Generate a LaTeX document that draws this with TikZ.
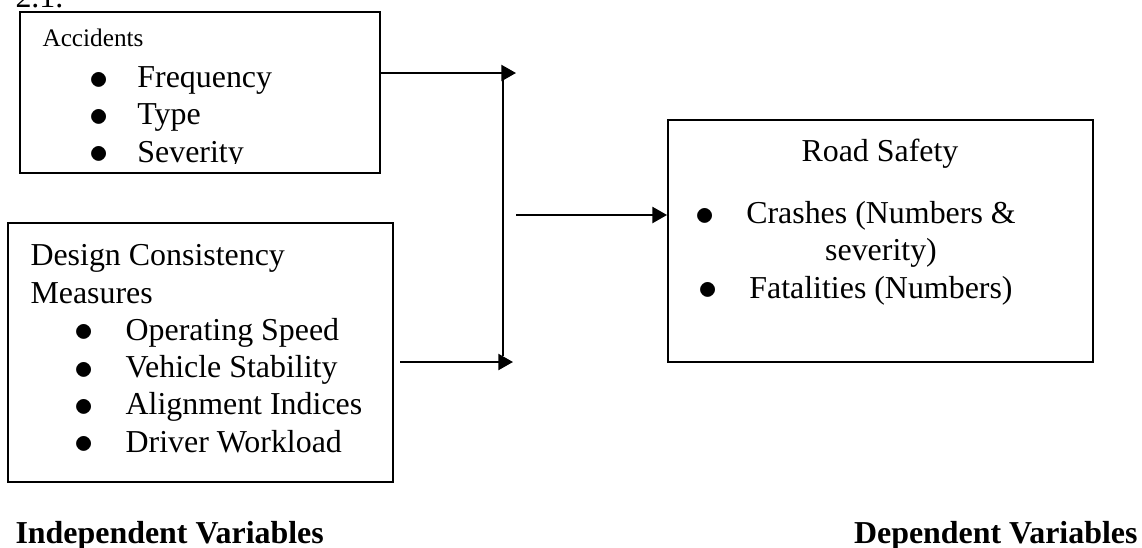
\documentclass[tikz,border=0pt]{standalone}
\usepackage{fontspec}
\setmainfont{Liberation Serif}
\usetikzlibrary{arrows.meta, fit, positioning}

\newcommand{\dotmark}{\raisebox{-0.6pt}{\scalebox{1.2}{$\bullet$}}}
\newcommand{\bul}[1][18pt]{\makebox[#1][l]{\dotmark}}
\newcommand{\hbul}{\llap{\dotmark\hspace{11.8pt}}}

\begin{document}
\begin{tikzpicture}[
  x=0.376pt, y=-0.376pt,
  frame/.style={rectangle, draw, line width=0.7pt, inner sep=0pt},
  txt/.style={inner sep=0pt, align=left, font=\fontsize{12}{14}\selectfont},
  lbl/.style={inner sep=0pt, font=\fontsize{12}{14}\selectfont\bfseries},
  arr/.style={-{Triangle[length=5.5pt, width=6pt]}, line width=0.85pt}
]
\path[use as bounding box] (0,0) rectangle (1142,547);
\clip (0,0) rectangle (1142,547);

\node[txt, anchor=base west] (num) at (15,7) {2.1.};

% boxes
\node[frame, fit={(20,12) (380,173)}] (acc) {};
\node[frame, fit={(8,223) (393,482)}] (dcm) {};
\node[frame, fit={(668,120) (1093,362)}] (safety) {};

% box texts (anchored on the last line)
\begin{scope}
\clip (20,12) rectangle (380,163);
\node[txt, font=\fontsize{9.5}{11}\selectfont, anchor=base west] (acc-title) at (42,46) {Accidents};
\node[txt, anchor=base west] (acc-list) at (89,162)
  {\bul Frequency\\ \bul Type\\ \bul Severity};
\end{scope}
\node[txt, anchor=base west] (dcm-title) at (30,303) {Design Consistency\\Measures};
\node[txt, anchor=base west] (dcm-list) at (74,452)
  {\bul[19.2pt]Operating Speed\\ \bul[19.2pt]Vehicle Stability\\
   \bul[19.2pt]Alignment Indices\\ \bul[19.2pt]Driver Workload};
\node[txt, align=center, anchor=base] (safety-title) at (880,161) {Road Safety};
\node[txt, align=center, anchor=base] (safety-list) at (881,298)
  {\hbul Crashes (Numbers \&\\ severity)\\ \hbul Fatalities (Numbers)};

% labels
\node[lbl, anchor=base west] (indep) at (15,543) {Independent Variables};
\node[lbl, anchor=base east] (dep) at (1138,543) {Dependent Variables};

% connectors
\coordinate (jt) at (516,73);
\coordinate (jb) at (513,362);
\coordinate (vt) at (503,73);
\coordinate (vb) at (503,356);
\coordinate (ms) at (516,215);
\draw[arr] (acc.east |- jt) -- (jt);
\draw[line width=0.85pt] (vt) -- (vb);
\draw[arr] ([xshift=2.3pt]dcm.east |- jb) -- (jb);
\draw[arr] (ms) -- (ms -| safety.west);
\end{tikzpicture}
\end{document}
